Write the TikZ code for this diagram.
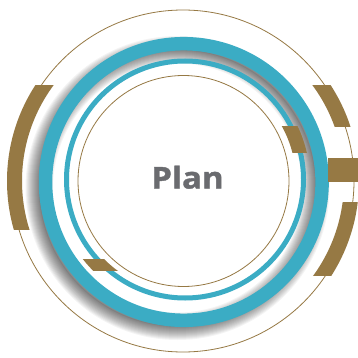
\documentclass[tikz,border=0pt]{standalone}
\usepackage{fontspec}
\setmainfont{Open Sans}
\newfontfamily\planfont{Open Sans}[BoldFeatures={FakeBold=1.2}]
\definecolor{tealc}{RGB}{59,172,196}
\definecolor{brownc}{RGB}{150,121,68}
\definecolor{textg}{RGB}{106,107,111}
\begin{document}
\begin{tikzpicture}[x=1pt,y=-1pt,
  thinbrown/.style={draw=brownc, line width=0.8pt},
  seg/.style={fill=brownc, even odd rule},
  shadowring/.style={fill=black, opacity=0.042, even odd rule}]
\useasboundingbox[fill=white] (0,0) rectangle (358,358);
\coordinate (C) at (183,181);
% thin brown circles
\draw[thinbrown] (C) circle (171pt);
\draw[thinbrown] (183.5,181) circle (105.5pt);
% soft shadow of the thick ring
\coordinate (S) at (177.5,188);
\foreach \s in {-7,...,7}{
  \fill[shadowring] (S) circle ({145pt+1pt*\s}) (S) circle ({131.5pt-1pt*\s});
}
% teal rings
\draw[tealc, line width=5pt] (185,179.5) circle (118.5pt);
\draw[tealc, line width=13.5pt] (183.8,182) circle (138.3pt);
% brown outer segments
\begin{scope}
  \clip (0,86) rectangle (183,229);
  \fill[seg] (C) circle (176pt) (C) circle (161pt);
\end{scope}
\begin{scope}
  \clip (183,86) rectangle (360,127);
  \fill[seg] (C) circle (176pt) (C) circle (161pt);
\end{scope}
\begin{scope}
  \clip (183,202) rectangle (360,275);
  \fill[seg] (C) circle (176pt) (C) circle (161pt);
\end{scope}
\fill[brownc] (328,158) rectangle (358,182);
% small inner blocks
\begin{scope}
  \clip (183,127) rectangle (360,152);
  \fill[seg] (C) circle (127pt) (C) circle (113pt);
\end{scope}
\begin{scope}
  \clip (0,259) rectangle (183,270);
  \fill[seg] (C) circle (127pt) (C) circle (111pt);
\end{scope}
% text
\node[anchor=base, inner sep=0pt, text=textg, font=\planfont\bfseries\fontsize{30}{30}\selectfont, xscale=1.1] (plan) at (187.5,188.5) {Plan};
\end{tikzpicture}
\end{document}
